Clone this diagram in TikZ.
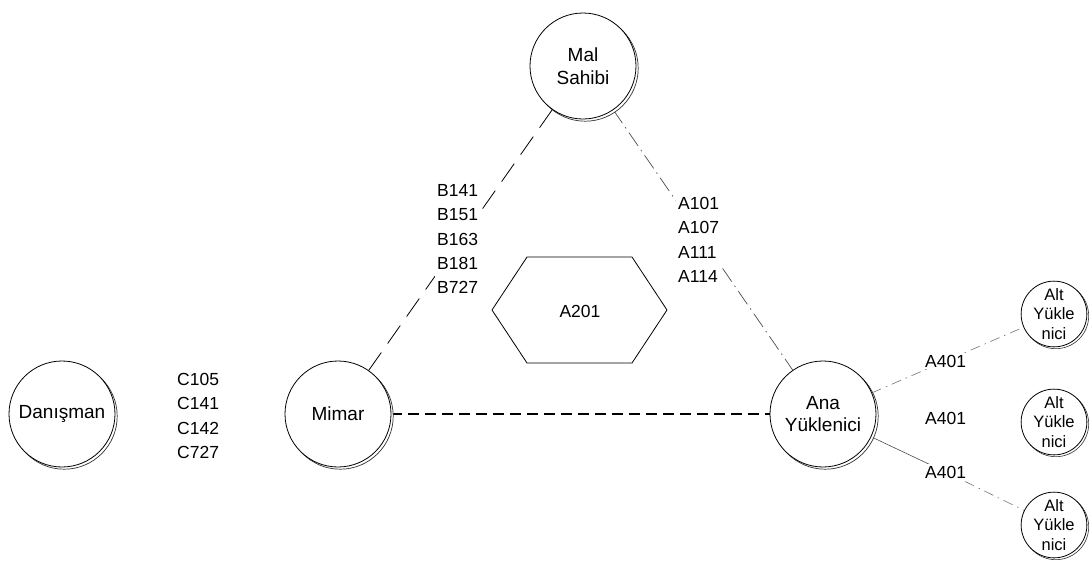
\documentclass[tikz,border=0pt]{standalone}
\usepackage{fontspec}
\setmainfont{Liberation Sans}
\usetikzlibrary{shadows}
\pgfdeclarelayer{bg}
\pgfsetlayers{bg,main}
\begin{document}
\begin{tikzpicture}[x=1pt,y=-1pt,
  bigc/.style={circle, draw, line width=0.8pt, fill=white, minimum size=106pt, inner sep=0pt, align=center,
    font=\fontsize{19}{22.5}\selectfont,
    general shadow={shadow xshift=2.2pt, shadow yshift=-2.2pt, fill=white, draw=black!80, line width=0.7pt}},
  smallc/.style={circle, draw, line width=0.8pt, fill=white, minimum size=63pt, inner sep=0pt, align=center,
    font=\fontsize{16.5}{19.5}\selectfont,
    general shadow={shadow xshift=1.8pt, shadow yshift=-1.8pt, fill=white, draw=black!80, line width=0.6pt}},
  lbl/.style={fill=white, inner sep=2pt, align=left, anchor=west, font=\fontsize{17.5}{24.3}\selectfont},
  longdash/.style={line width=0.8pt, dash pattern=on 22pt off 11pt},
  dashdot/.style={line width=0.7pt, black!70, dash pattern=on 16pt off 5pt on 1.5pt off 5pt},
  thickdash/.style={line width=2pt, dash pattern=on 11pt off 6pt},
  faintdash/.style={line width=0.6pt, black!55, dash pattern=on 10pt off 5pt on 1.5pt off 5pt},
  thinsolid/.style={line width=0.6pt, black!70}
]
\useasboundingbox (0,0) rectangle (1089,568);

% nodes
\node[bigc] (mal) at (583,66) {Mal\\Sahibi};
\node[bigc] (dan) at (62,414) {Danışman};
\node[bigc] (mim) at (338,414) {Mimar};
\node[bigc] (ana) at (823,414) {Ana\\Yüklenici};
\node[smallc] (alt1) at (1054,314) {Alt\\Yükle\\nici};
\node[smallc] (alt2) at (1054,422) {Alt\\Yükle\\nici};
\node[smallc] (alt3) at (1054,525) {Alt\\Yükle\\nici};

% hexagon
\draw[line width=0.8pt] (492,310) -- (527,257) -- (632,257) -- (667,310) -- (632,363) -- (527,363) -- cycle;
\node[font=\fontsize{17.5}{20}\selectfont] (a201) at (580,311) {A201};

% labels
\node[lbl] (blab) at (435,239) {B141\\B151\\B163\\B181\\B727};
\node[lbl] (alab) at (676,240) {A101\\A107\\A111\\A114};
\node[lbl] (clab) at (175,416) {C105\\C141\\C142\\C727};
\node[lbl] (l1) at (923,361) {A401};
\node[lbl] (l2) at (923,418) {A401};
\node[lbl] (l3) at (923,472) {A401};

% connectors (behind the labels)
\begin{pgfonlayer}{bg}
\draw[longdash] (mal) -- (mim);
\draw[dashdot] (mal) -- (ana);
\draw[thickdash] (mim) -- (ana);
\draw[faintdash] (ana) -- (alt1);
\draw[thinsolid] (ana) -- (l3.center);
\draw[faintdash] (l3.center) -- (alt3);
\end{pgfonlayer}
\end{tikzpicture}
\end{document}
